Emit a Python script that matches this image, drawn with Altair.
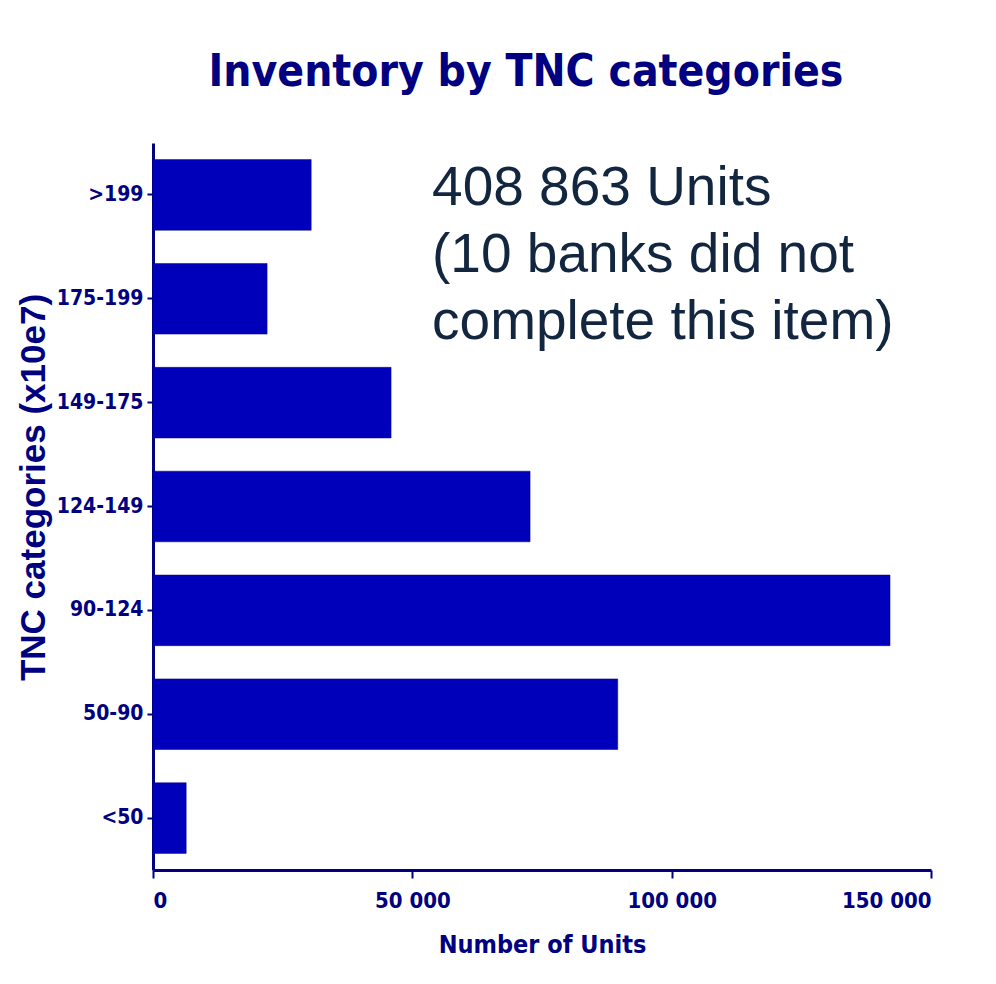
import altair as alt
import pandas as pd

categories = [">199", "175-199", "149-175", "124-149", "90-124", "50-90", "<50"]
units = [30500, 22000, 45900, 72700, 142100, 89600, 6400]
x_ticks = [0, 50000, 100000, 150000]
annotation = "408 863 Units\n(10 banks did not\ncomplete this item)"

df = pd.DataFrame({"category": categories, "units": units})
ann = pd.DataFrame({"label": [annotation]})

NAVY = "#000080"
BAR = "#0000BB"
NARROW = "Liberation Sans Narrow, Arial Narrow, DejaVu Sans Condensed, sans-serif"

x_enc = alt.X(
    "units:Q",
    scale=alt.Scale(domain=[0, 150000], nice=False),
    axis=alt.Axis(
        title="Number of Units",
        values=x_ticks,
        grid=False,
        labelExpr="replace(format(datum.value, ','), ',', ' ')",
        labelFont=NARROW, labelFontSize=22, labelFontWeight="bold", labelColor=NAVY,
        labelPadding=12,
        titleFont=NARROW, titleFontSize=25, titleFontWeight="bold", titleColor=NAVY,
        titlePadding=21,
        domainColor=NAVY, domainWidth=3,
        tickColor=NAVY, tickWidth=2, tickSize=8,
    ),
)
y_enc = alt.Y(
    "category:N",
    sort=categories,
    scale=alt.Scale(paddingInner=0.32, paddingOuter=0.16),
    axis=alt.Axis(
        title="TNC categories (x10e7)",
        grid=False,
        labelFont=NARROW, labelFontSize=21, labelFontWeight="bold", labelColor=NAVY,
        labelPadding=4,
        titleFont="Liberation Sans, Arial, sans-serif", titleFontSize=35,
        titleFontWeight="bold", titleColor=NAVY, titlePadding=5, titleY=344,
        domainColor=NAVY, domainWidth=3,
        tickColor=NAVY, tickWidth=2, tickSize=6,
    ),
)

bars = alt.Chart(df).mark_bar(color=BAR, stroke=NAVY, strokeWidth=0.5).encode(
    x=x_enc, y=y_enc
)

text = alt.Chart(ann).mark_text(
    align="left", baseline="alphabetic", dy=10, lineBreak="\n", lineHeight=67,
    font="Liberation Sans, Arial, sans-serif", fontSize=55, color="#13263F",
).encode(
    x=alt.datum(53800),
    y=alt.datum(">199"),
    text="label:N",
)

chart = (
    alt.layer(bars, text)
    .properties(
        width=778,
        height=727,
        autosize=alt.AutoSizeParams(type="none"),
        padding={"left": 145, "top": 135, "right": 57, "bottom": 106},
        title=alt.TitleParams(
            "Inventory by TNC categories",
            font=NARROW, fontSize=44, fontWeight="bold", color=NAVY,
            anchor="middle", dx=-16, offset=48,
        ),
    )
    .configure(background="white")
    .configure_view(strokeWidth=0, stroke="transparent")
)

chart.save("out.html", embed_options={"renderer": "svg", "actions": False})
